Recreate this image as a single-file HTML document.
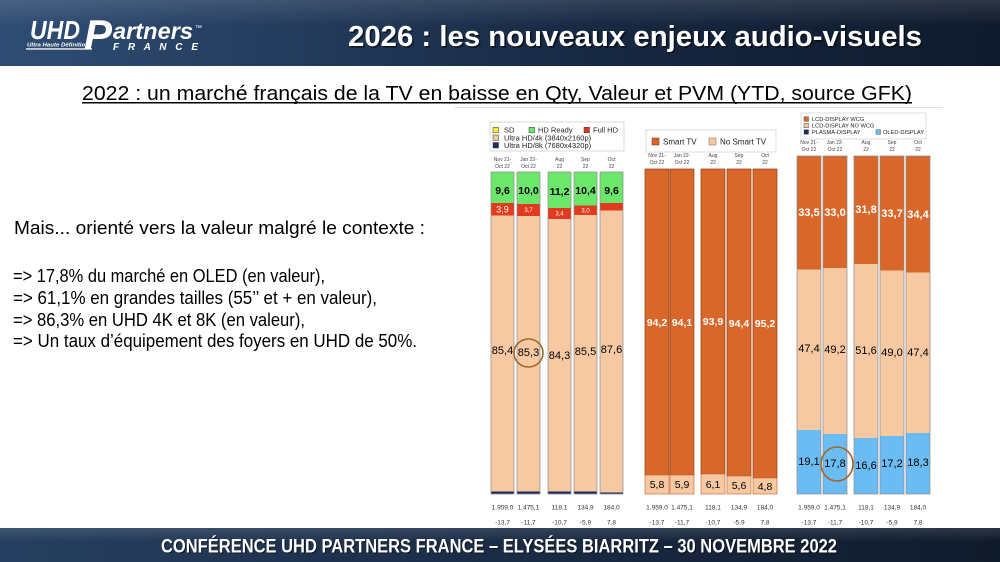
<!DOCTYPE html>
<html><head><meta charset="utf-8"><style>
html,body{margin:0;padding:0;background:#fff;}
svg{display:block;}
text{font-family:"Liberation Sans",Arial,sans-serif;}
</style></head><body>
<svg width="1000" height="562" viewBox="0 0 1000 562" xmlns="http://www.w3.org/2000/svg">
<defs>
<linearGradient id="hg" x1="0" y1="0" x2="1" y2="0">
<stop offset="0" stop-color="#2f4d74"/><stop offset="0.3" stop-color="#233b5c"/><stop offset="0.6" stop-color="#172842"/><stop offset="1" stop-color="#0f1a2c"/>
</linearGradient>
<linearGradient id="fg" x1="0" y1="0" x2="1" y2="0">
<stop offset="0" stop-color="#263f60"/><stop offset="0.5" stop-color="#1a2c46"/><stop offset="1" stop-color="#0f1a2b"/>
</linearGradient>
<linearGradient id="fv" x1="0" y1="0" x2="0" y2="1">
<stop offset="0" stop-color="#ffffff" stop-opacity="0.12"/><stop offset="0.4" stop-color="#ffffff" stop-opacity="0"/>
</linearGradient>
</defs>
<rect width="1000" height="562" fill="#fff"/>
<!-- header -->
<rect x="0" y="0" width="1000" height="66" fill="url(#hg)"/>
<rect x="0" y="0" width="1000" height="66" fill="url(#fv)"/>
<!-- logo -->
<text x="30" y="39" font-size="26" font-weight="bold" font-style="italic" fill="#fff" textLength="50" lengthAdjust="spacingAndGlyphs">UHD</text>
<text x="84" y="49" font-family="Liberation Serif" font-size="42" font-weight="bold" font-style="italic" fill="#fff">P</text>
<text x="113" y="39" font-size="23" font-weight="bold" font-style="italic" fill="#fff" textLength="80" lengthAdjust="spacingAndGlyphs">artners</text>
<text x="195" y="30" font-size="7" fill="#fff">™</text>
<text x="27" y="46.5" font-size="5.5" font-weight="bold" font-style="italic" fill="#fff" textLength="62" lengthAdjust="spacingAndGlyphs">Ultra Haute Définition</text>
<rect x="26" y="48.3" width="66" height="1.3" fill="#fff"/>
<text x="113" y="50" font-size="10" font-weight="bold" font-style="italic" fill="#fff" textLength="85" lengthAdjust="spacing">F R A N C E</text>
<!-- title -->
<text x="349.5" y="47.5" font-size="29" font-weight="bold" fill="#000" fill-opacity="0.6" textLength="574" lengthAdjust="spacingAndGlyphs">2026 : les nouveaux enjeux audio-visuels</text>
<text x="348" y="46" font-size="29" font-weight="bold" fill="#fff" textLength="574" lengthAdjust="spacingAndGlyphs">2026 : les nouveaux enjeux audio-visuels</text>
<!-- subtitle -->
<text x="82" y="100" font-size="20" fill="#000" textLength="830" lengthAdjust="spacingAndGlyphs">2022 : un marché français de la TV en baisse en Qty, Valeur et PVM (YTD, source GFK)</text>
<rect x="82" y="102" width="830" height="1.5" fill="#000"/>
<rect x="455" y="107" width="488" height="1" fill="#e2e2e2"/>
<!-- left text -->
<text x="14" y="234" font-size="18" fill="#000" textLength="411" lengthAdjust="spacingAndGlyphs">Mais... orienté vers la valeur malgré le contexte :</text>
<text x="13" y="282" font-size="18" fill="#000" textLength="312" lengthAdjust="spacingAndGlyphs">=&gt; 17,8% du marché en OLED (en valeur),</text>
<text x="13" y="304" font-size="18" fill="#000" textLength="364" lengthAdjust="spacingAndGlyphs">=&gt; 61,1% en grandes tailles (55’’ et + en valeur),</text>
<text x="13" y="326" font-size="18" fill="#000" textLength="292" lengthAdjust="spacingAndGlyphs">=&gt; 86,3% en UHD 4K et 8K (en valeur),</text>
<text x="13" y="347" font-size="18" fill="#000" textLength="404" lengthAdjust="spacingAndGlyphs">=&gt; Un taux d’équipement des foyers en UHD de 50%.</text>

<!-- ============ CHART 1 ============ -->
<rect x="490" y="122" width="134" height="29" fill="#fff" stroke="#cfcfcf" stroke-width="0.8"/>
<g font-size="7.5" fill="#222">
<rect x="493" y="127.3" width="5.5" height="5.5" fill="#f3ee3c" stroke="#333" stroke-width="0.5"/><text x="504" y="132.6">SD</text>
<rect x="529" y="127.3" width="5.5" height="5.5" fill="#6be86b" stroke="#333" stroke-width="0.5"/><text x="538" y="132.6">HD Ready</text>
<rect x="584" y="127.3" width="5.5" height="5.5" fill="#e23a1e" stroke="#333" stroke-width="0.5"/><text x="593" y="132.6">Full HD</text>
<rect x="493" y="135" width="5.5" height="5.5" fill="#f6c9a2" stroke="#333" stroke-width="0.5"/><text x="504" y="140.3">Ultra HD/4k (3840x2160p)</text>
<rect x="493" y="142.5" width="5.5" height="5.5" fill="#1c2d64" stroke="#333" stroke-width="0.5"/><text x="504" y="147.8">Ultra HD/8k (7680x4320p)</text>
</g>
<g font-size="5" fill="#444" text-anchor="middle">
<text x="502.5" y="160.8">Nov 21-</text><text x="502.5" y="167.8">Oct 22</text>
<text x="528.5" y="160.8">Jan 22-</text><text x="528.5" y="167.8">Oct 22</text>
<text x="559.5" y="160.8">Aug</text><text x="559.5" y="167.8">22</text>
<text x="585.5" y="160.8">Sep</text><text x="585.5" y="167.8">22</text>
<text x="611.5" y="160.8">Oct</text><text x="611.5" y="167.8">22</text>
</g>
<g>
<rect x="491" y="172" width="23" height="31" fill="#6be86b"/><rect x="491" y="203" width="23" height="12.5" fill="#e23a1e"/><rect x="491" y="215.5" width="23" height="276" fill="#f6c9a2"/><rect x="491" y="491.5" width="23" height="2.5" fill="#1c2d64"/>
<rect x="517" y="172" width="23" height="32" fill="#6be86b"/><rect x="517" y="204" width="23" height="12" fill="#e23a1e"/><rect x="517" y="216" width="23" height="275.5" fill="#f6c9a2"/><rect x="517" y="491.5" width="23" height="2.5" fill="#1c2d64"/>
<rect x="548" y="172" width="23" height="36" fill="#6be86b"/><rect x="548" y="208" width="23" height="11" fill="#e23a1e"/><rect x="548" y="219" width="23" height="272.5" fill="#f6c9a2"/><rect x="548" y="491.5" width="23" height="2.5" fill="#1c2d64"/>
<rect x="574" y="172" width="23" height="33.5" fill="#6be86b"/><rect x="574" y="205.5" width="23" height="9.5" fill="#e23a1e"/><rect x="574" y="215" width="23" height="276.5" fill="#f6c9a2"/><rect x="574" y="491.5" width="23" height="2.5" fill="#1c2d64"/>
<rect x="600" y="172" width="23" height="31" fill="#6be86b"/><rect x="600" y="203" width="23" height="7.5" fill="#e23a1e"/><rect x="600" y="210.5" width="23" height="282" fill="#f6c9a2"/><rect x="600" y="492.5" width="23" height="1.5" fill="#1c2d64"/>
<g fill="none" stroke="#8c8c8c" stroke-width="0.7">
<rect x="491" y="172" width="23" height="322"/><rect x="517" y="172" width="23" height="322"/><rect x="548" y="172" width="23" height="322"/><rect x="574" y="172" width="23" height="322"/><rect x="600" y="172" width="23" height="322"/>
</g>
</g>
<g font-size="10.5" font-weight="bold" fill="#000" text-anchor="middle">
<text x="502.5" y="194">9,6</text><text x="528.5" y="194">10,0</text><text x="559.5" y="195">11,2</text><text x="585.5" y="194">10,4</text><text x="611.5" y="194">9,6</text>
</g>
<g fill="#fff" text-anchor="middle">
<text x="502.5" y="212.5" font-size="9">3,9</text>
<text x="528.5" y="212" font-size="6">3,7</text>
<text x="559.5" y="215.5" font-size="6">3,4</text>
<text x="585.5" y="212.5" font-size="6">3,0</text>
</g>
<g font-size="11" fill="#000" text-anchor="middle">
<text x="502.5" y="354">85,4</text><text x="528.5" y="356">85,3</text><text x="559.5" y="359">84,3</text><text x="585.5" y="355">85,5</text><text x="611.5" y="353">87,6</text>
</g>
<ellipse cx="528.5" cy="353" rx="14.5" ry="14" fill="none" stroke="#a0682a" stroke-width="1.6"/>
<g font-size="6.5" fill="#333" text-anchor="middle">
<text x="502.5" y="509.5">1.959,0</text><text x="528.5" y="509.5">1.475,1</text><text x="559.5" y="509.5">118,1</text><text x="585.5" y="509.5">134,9</text><text x="611.5" y="509.5">184,0</text>
<text x="502.5" y="524.5">-13,7</text><text x="528.5" y="524.5">-11,7</text><text x="559.5" y="524.5">-10,7</text><text x="585.5" y="524.5">-5,9</text><text x="611.5" y="524.5">7,8</text>
</g>

<!-- ============ CHART 2 ============ -->
<rect x="646" y="130" width="130" height="22" fill="#fff" stroke="#d4d4d4" stroke-width="0.8"/>
<rect x="652" y="138" width="7" height="7" fill="#d9672a" stroke="#6b3010" stroke-width="0.5"/>
<text x="663" y="144.5" font-size="8" fill="#222">Smart TV</text>
<rect x="709" y="138" width="7" height="7" fill="#f6c9a2" stroke="#8a5a3a" stroke-width="0.5"/>
<text x="720" y="144.5" font-size="8" fill="#222">No Smart TV</text>
<g font-size="5" fill="#444" text-anchor="middle">
<text x="657" y="157">Nov 21-</text><text x="657" y="164">Oct 22</text>
<text x="682" y="157">Jan 22-</text><text x="682" y="164">Oct 22</text>
<text x="713" y="157">Aug</text><text x="713" y="164">22</text>
<text x="739" y="157">Sep</text><text x="739" y="164">22</text>
<text x="765" y="157">Oct</text><text x="765" y="164">22</text>
</g>
<g stroke="#8e4117" stroke-width="0.7">
<rect x="645" y="169" width="24" height="306" fill="#d9672a"/>
<rect x="670" y="169" width="24" height="306" fill="#d9672a"/>
<rect x="701" y="169" width="24" height="305" fill="#d9672a"/>
<rect x="727" y="169" width="24" height="307" fill="#d9672a"/>
<rect x="753" y="169" width="24" height="309" fill="#d9672a"/>
</g>
<g stroke="#c8703a" stroke-width="0.7" fill="#f6c9a2">
<rect x="645" y="475" width="24" height="19"/>
<rect x="670" y="475" width="24" height="19"/>
<rect x="701" y="474" width="24" height="20"/>
<rect x="727" y="476" width="24" height="18"/>
<rect x="753" y="478" width="24" height="16"/>
</g>
<g font-size="10.5" font-weight="bold" fill="#fff" text-anchor="middle">
<text x="657" y="326">94,2</text><text x="682" y="326">94,1</text><text x="713" y="325">93,9</text><text x="739" y="327">94,4</text><text x="765" y="327">95,2</text>
</g>
<g font-size="10.5" fill="#000" text-anchor="middle">
<text x="657" y="488">5,8</text><text x="682" y="488">5,9</text><text x="713" y="488">6,1</text><text x="739" y="489">5,6</text><text x="765" y="490">4,8</text>
</g>
<g font-size="6.5" fill="#333" text-anchor="middle">
<text x="657" y="509.5">1.959,0</text><text x="682" y="509.5">1.475,1</text><text x="713" y="509.5">118,1</text><text x="739" y="509.5">134,9</text><text x="765" y="509.5">184,0</text>
<text x="657" y="524.5">-13,7</text><text x="682" y="524.5">-11,7</text><text x="713" y="524.5">-10,7</text><text x="739" y="524.5">-5,9</text><text x="765" y="524.5">7,8</text>
</g>

<!-- ============ CHART 3 ============ -->
<rect x="801" y="113" width="125" height="26" fill="#fff" stroke="#d4d4d4" stroke-width="0.8"/>
<g font-size="5.7" fill="#222">
<rect x="804" y="116.8" width="4.5" height="4.5" fill="#d9672a" stroke="#333" stroke-width="0.4"/><text x="812" y="121">LCD-DISPLAY WCG</text>
<rect x="804" y="123.3" width="4.5" height="4.5" fill="#f6c9a2" stroke="#333" stroke-width="0.4"/><text x="812" y="127.5">LCD-DISPLAY NO WCG</text>
<rect x="804" y="129.8" width="4.5" height="4.5" fill="#1c2d64" stroke="#333" stroke-width="0.4"/><text x="812" y="134">PLASMA-DISPLAY</text>
<rect x="876" y="129.8" width="4.5" height="4.5" fill="#6bbcf2" stroke="#333" stroke-width="0.4"/><text x="883" y="134">OLED-DISPLAY</text>
</g>
<g font-size="5" fill="#444" text-anchor="middle">
<text x="809" y="144">Nov 21-</text><text x="809" y="151">Oct 22</text>
<text x="835" y="144">Jan 22-</text><text x="835" y="151">Oct 22</text>
<text x="866" y="144">Aug</text><text x="866" y="151">22</text>
<text x="892" y="144">Sep</text><text x="892" y="151">22</text>
<text x="918" y="144">Oct</text><text x="918" y="151">22</text>
</g>
<g>
<rect x="797" y="156" width="24" height="113.5" fill="#d9672a"/><rect x="797" y="269.5" width="24" height="160.5" fill="#f6c9a2"/><rect x="797" y="430" width="24" height="64" fill="#6bbcf2"/>
<rect x="823" y="156" width="24" height="112" fill="#d9672a"/><rect x="823" y="268" width="24" height="166" fill="#f6c9a2"/><rect x="823" y="434" width="24" height="60" fill="#6bbcf2"/>
<rect x="854" y="156" width="24" height="108" fill="#d9672a"/><rect x="854" y="264" width="24" height="174" fill="#f6c9a2"/><rect x="854" y="438" width="24" height="56" fill="#6bbcf2"/>
<rect x="880" y="156" width="24" height="114.5" fill="#d9672a"/><rect x="880" y="270.5" width="24" height="165.5" fill="#f6c9a2"/><rect x="880" y="436" width="24" height="58" fill="#6bbcf2"/>
<rect x="906" y="156" width="24" height="116.5" fill="#d9672a"/><rect x="906" y="272.5" width="24" height="160.5" fill="#f6c9a2"/><rect x="906" y="433" width="24" height="61" fill="#6bbcf2"/>
<g fill="none" stroke="#8a8a8a" stroke-width="0.7">
<rect x="797" y="156" width="24" height="338"/><rect x="823" y="156" width="24" height="338"/><rect x="854" y="156" width="24" height="338"/><rect x="880" y="156" width="24" height="338"/><rect x="906" y="156" width="24" height="338"/>
</g>
</g>
<g font-size="11" font-weight="bold" fill="#fff" text-anchor="middle">
<text x="809" y="216">33,5</text><text x="835" y="216">33,0</text><text x="866" y="213">31,8</text><text x="892" y="217">33,7</text><text x="918" y="218">34,4</text>
</g>
<g font-size="11" fill="#000" text-anchor="middle">
<text x="809" y="352">47,4</text><text x="835" y="353">49,2</text><text x="866" y="354">51,6</text><text x="892" y="356">49,0</text><text x="918" y="356">47,4</text>
<text x="809" y="465">19,1</text><text x="835" y="467">17,8</text><text x="866" y="469">16,6</text><text x="892" y="467">17,2</text><text x="918" y="466">18,3</text>
</g>
<ellipse cx="837" cy="464" rx="16" ry="17" fill="none" stroke="#a0682a" stroke-width="1.6"/>
<g font-size="6.5" fill="#333" text-anchor="middle">
<text x="809" y="509.5">1.959,0</text><text x="835" y="509.5">1.475,1</text><text x="866" y="509.5">118,1</text><text x="892" y="509.5">134,9</text><text x="918" y="509.5">184,0</text>
<text x="809" y="524.5">-13,7</text><text x="835" y="524.5">-11,7</text><text x="866" y="524.5">-10,7</text><text x="892" y="524.5">-5,9</text><text x="918" y="524.5">7,8</text>
</g>

<!-- footer -->
<rect x="0" y="528" width="1000" height="34" fill="url(#fg)"/>
<rect x="0" y="528" width="1000" height="34" fill="url(#fv)"/>
<text x="162" y="553.5" font-size="19" font-weight="bold" fill="#000" fill-opacity="0.6" textLength="676" lengthAdjust="spacingAndGlyphs">CONFÉRENCE UHD PARTNERS FRANCE – ELYSÉES BIARRITZ – 30 NOVEMBRE 2022</text>
<text x="161" y="552.5" font-size="19" font-weight="bold" fill="#fff" textLength="676" lengthAdjust="spacingAndGlyphs">CONFÉRENCE UHD PARTNERS FRANCE – ELYSÉES BIARRITZ – 30 NOVEMBRE 2022</text>
</svg>
</body></html>
